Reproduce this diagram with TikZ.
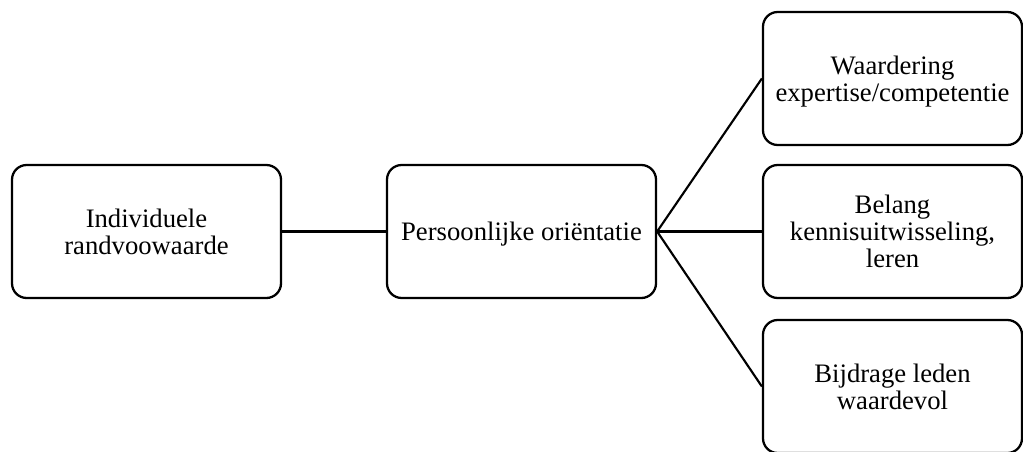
\documentclass[tikz,border=0pt]{standalone}
\usepackage{fontspec}
\setmainfont{Liberation Serif}
\usepackage{tikz}

\begin{document}
\begin{tikzpicture}[x=0.75pt,y=0.75pt,
   box/.style n args={1}{draw,line width=1.7pt,rounded corners=11pt,minimum width=#1,minimum height=99.75pt,align=center,inner sep=0pt,text depth=-2pt,font=\fontsize{20}{20.25}\selectfont},
   link/.style={line width=1.6pt}]
\useasboundingbox (0,0) rectangle (1023,451);
   \node[box={201.75pt}](indiv) at(146.5,219.5) {Individuele\\randvoowaarde};
   \node[box={201.75pt}](orient) at(521.5,219.5) {Persoonlijke oriëntatie};
   \node[box={194.25pt}](waard) at(892.5,372.5) {Waardering\\expertise/competentie};
   \node[box={194.25pt}](belang) at(892.5,219.5) {Belang\\kennisuitwisseling,\\leren};
   \node[box={194.25pt}](bijdr) at(892.5,64.5) {Bijdrage leden\\waardevol};
\draw[link] (indiv.east) -- (orient.west);
\foreach \n in {waard,belang,bijdr} {
   \draw[link] (orient.east) -- (\n.west);
}
\end{tikzpicture}
\end{document}
